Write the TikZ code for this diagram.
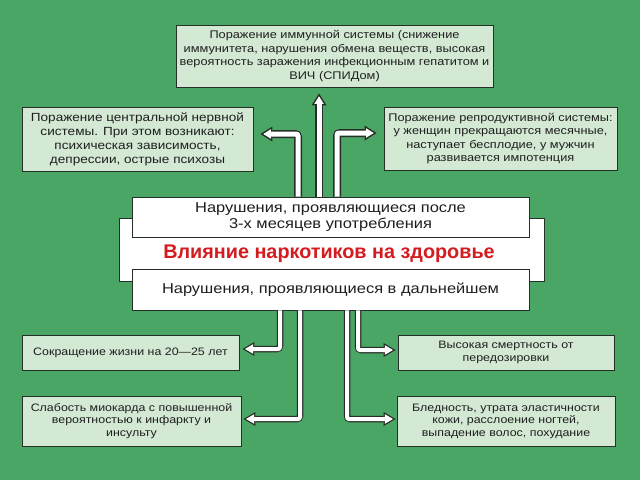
\documentclass[tikz,border=0pt]{standalone}
\usepackage{fontspec}
\setmainfont{Liberation Sans}[FakeStretch=1.15]
\newfontfamily\boldtitle{Liberation Sans}[FakeStretch=1.0]
\usetikzlibrary{arrows.meta,calc}
\definecolor{bg}{RGB}{74,166,100}
\definecolor{boxfill}{RGB}{211,233,212}
\definecolor{boxline}{RGB}{38,46,40}
\definecolor{txt}{RGB}{30,30,30}
\definecolor{redtxt}{RGB}{212,28,32}
\definecolor{arrline}{RGB}{40,44,40}
\newcommand{\dblarrow}[3]{\draw[#1] #3; \draw[#2] #3;}
\begin{document}
\begin{tikzpicture}[x=1pt,y=-1pt,
  box/.style={draw=boxline, fill=boxfill, line width=0.9pt, inner sep=0pt, align=center, text=txt,
    font=\fontsize{10.8}{13.5}\selectfont},
  lowbox/.style={box, font=\fontsize{10.8}{12.5}\selectfont},
  wbox/.style={draw=boxline, fill=white, line width=0.9pt, inner sep=0pt, align=center, text=txt,
    font=\fontsize{14.3}{16}\selectfont},
  upout/.style={line width=8pt, draw=arrline, rounded corners=3pt,
    -{Triangle[length=12pt,width=15pt,line width=0pt]}},
  upin/.style={line width=5pt, draw=white, rounded corners=2pt, shorten >=2.8pt,
    -{Triangle[length=7.7pt,width=9.6pt,line width=0pt]}},
  lowout/.style={line width=6.5pt, draw=arrline, rounded corners=3pt,
    -{Triangle[length=12pt,width=14pt,line width=0pt]}},
  lowin/.style={line width=4pt, draw=white, rounded corners=2pt, shorten >=2.5pt,
    -{Triangle[length=8.2pt,width=9.6pt,line width=0pt]}},
]
\fill[bg] (0,0) rectangle (640,480);
\useasboundingbox (0,0) rectangle (640,480);

% boxes
\node[box, font=\fontsize{11.1}{13.4}\selectfont, minimum width=317, minimum height=62] (imm) at (334.5,56)
  {Поражение иммунной системы (снижение\\иммунитета, нарушения обмена веществ, высокая\\вероятность заражения инфекционным гепатитом и\\ВИЧ (СПИДом)};
\node[box, font=\fontsize{11.8}{14}\selectfont, minimum width=231, minimum height=64] (cns) at (137.5,139)
  {Поражение центральной нервной\\системы. При этом возникают:\\психическая зависимость,\\депрессии, острые психозы};
\node[box, font=\fontsize{11.1}{13.5}\selectfont, minimum width=233, minimum height=63] (repr) at (500.5,138.5)
  {Поражение репродуктивной системы:\\у женщин прекращаются месячные,\\наступает бесплодие, у мужчин\\развивается импотенция};

\node[wbox, minimum width=425, minimum height=63] (main) at (331.5,249.5) {};
\node[wbox, minimum width=397, minimum height=40] (early) at (330.5,217)
  {Нарушения, проявляющиеся после\\3-х месяцев употребления};
\node[wbox, minimum width=397, minimum height=41] (late) at (330.5,289.5)
  {Нарушения, проявляющиеся в дальнейшем};
\node[text=redtxt, font=\boldtitle\bfseries\fontsize{19.8}{21}\selectfont, inner sep=0pt] (title) at (329,254)
  {Влияние наркотиков на здоровье};

\node[lowbox, minimum width=217, minimum height=35] (life) at (130.5,352.5)
  {Сокращение жизни на 20—25 лет};
\node[lowbox, minimum width=219, minimum height=50] (heart) at (131.5,421)
  {Слабость миокарда с повышенной\\вероятностью к инфаркту и\\инсульту};
\node[lowbox, minimum width=216, minimum height=35] (death) at (506,352.5)
  {Высокая смертность от\\передозировки};
\node[lowbox, minimum width=218, minimum height=50] (skin) at (506,421)
  {Бледность, утрата эластичности\\кожи, расслоение ногтей,\\выпадение волос, похудание};

% column coordinates
\coordinate (cm) at (319,0);
\coordinate (cl) at (298,0);
\coordinate (cr) at (337,0);
\coordinate (dl1) at (280,0);
\coordinate (dl2) at (300,0);
\coordinate (dr2) at (347,0);
\coordinate (dr1) at (358,0);

% upper arrows
\dblarrow{upout}{upin}{(early.north -| cm) -- ($(imm.south -| cm)+(0,6)$)}
\dblarrow{upout}{upin}{(early.north -| cl) |- ($(cns.east)+(7,-5)$)}
\dblarrow{upout}{upin}{(early.north -| cr) |- ($(repr.west)+(-7,-5.5)$)}

% lower arrows
\dblarrow{lowout}{lowin}{(late.south -| dl1) |- ($(life.east)+(3,-3.5)$)}
\dblarrow{lowout}{lowin}{(late.south -| dl2) |- ($(heart.east)+(2,-2)$)}
\dblarrow{lowout}{lowin}{(late.south -| dr1) |- ($(death.west)+(-2,-2.5)$)}
\dblarrow{lowout}{lowin}{(late.south -| dr2) |- ($(skin.west)+(-1,-2)$)}
\end{tikzpicture}
\end{document}
